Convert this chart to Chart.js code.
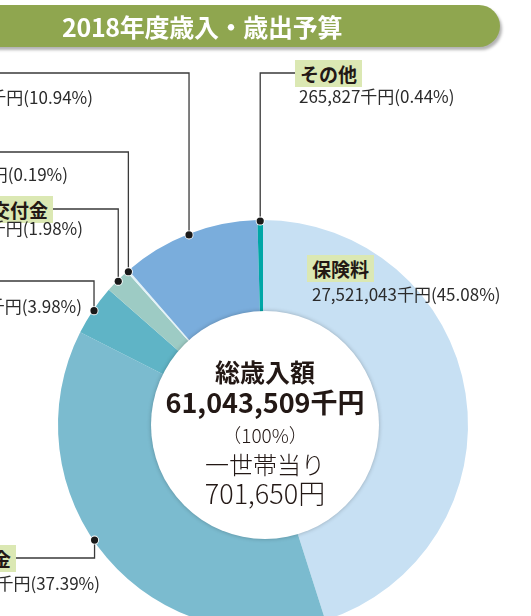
<!DOCTYPE html>
<html lang="ja">
<head>
<meta charset="utf-8">
<script src="https://cdn.jsdelivr.net/npm/chart.js@4.4.0/dist/chart.umd.min.js"></script>
<style>
  html, body { margin: 0; padding: 0; background: #fff; overflow: hidden; }
  body { width: 531px; height: 616px; position: relative; font-family: "Noto Sans CJK JP", "Noto Sans", sans-serif; color: #231815; }
  #wrap { position: absolute; left: 0; top: 0; width: 531px; height: 700px; }
  #chart { position: absolute; left: 0; top: 0; }
  .title { position: absolute; left: -30px; top: 5px; width: 530px; height: 42px; background: #8fa64f;
           border-radius: 0 21px 21px 0; box-shadow: 2px 3px 3px rgba(0,0,0,0.3); }
  .title span { position: absolute; left: 92px; top: 0; line-height: 42px; color: #fff; font-weight: bold; font-size: 25px; white-space: nowrap; letter-spacing: -0.3px; }
  .name { position: absolute; height: 27px; line-height: 27px; padding: 0 5px; background: #dbe8b3; font-weight: bold; font-size: 19px; white-space: nowrap; }
  .val { position: absolute; height: 20px; line-height: 20px; font-size: 17px; white-space: nowrap; color: #2b2b2b; }
  .hole { position: absolute; left: 151px; top: 311px; width: 228px; height: 228px; border-radius: 50%; background: #fff;
          box-shadow: 0 0 4px rgba(0,0,0,0.25); }
  .ctr { position: absolute; left: 140px; width: 250px; text-align: center; white-space: nowrap; color: #231815; }
</style>
</head>
<body>
<div id="wrap">
  <canvas id="chart" width="531" height="700"></canvas>
</div>
<div class="title"><span>2018年度歳入・歳出予算</span></div>
<div class="hole"></div>
<div id="labels"></div>
<div id="center"></div>
<script>
// 2018年度 歳入内訳（千円）
const categories = ['保険料', '国庫補助金', '都道府県補助金', '前期高齢者交付金', '繰入金', '繰越金', 'その他'];
const amounts = [27521043, 22824169, 2429540, 1208650, 115980, 6678300, 265827];
const percents = ['45.08', '37.39', '3.98', '1.98', '0.19', '10.94', '0.44'];
const colors = ['#c7e0f3', '#7bbbcf', '#5fb4c6', '#9dcbc4', '#e3f2f7', '#7aaddc', '#00a6a6'];

const centerTitle = '総歳入額';
const totalText = '61,043,509千円';
const totalPct = '（100%）';
const perLabel = '一世帯当り';
const perText = '701,650円';

// label placement (x/y in page px); side 'L' labels are right-aligned
const placement = [
  { side: 'R', nameX: 307, nameTop: 255, valX: 312, valY: 294 },
  { side: 'L', nameX: 16, nameTop: 545, valX: 100, valY: 583, lineY: 558, lineX: 16, frac: 0.545 },
  { side: 'L', nameX: -4, nameTop: 268, valX: 82, valY: 306, lineY: 281, lineX: -5, frac: 0.5 },
  { side: 'L', nameX: 53, nameTop: 196, valX: 83, valY: 228, lineY: 209, lineX: 53, frac: 0.5 },
  { side: 'L', nameX: -4, nameTop: 139, valX: 68, valY: 174, lineY: 152, lineX: -5, frac: 0.5 },
  { side: 'L', nameX: -4, nameTop: 60, valX: 93, valY: 97, lineY: 73, lineX: -5, frac: 0.5 },
  { side: 'R', nameX: 295, nameTop: 60, valX: 299, valY: 96, lineY: 73, lineX: 295, frac: 0.5 }
];

const fmt = (n) => n.toLocaleString('en-US');

// labels as html text
const box = document.getElementById('labels');
categories.forEach((c, i) => {
  const p = placement[i];
  const nm = document.createElement('div');
  nm.className = 'name';
  nm.textContent = c;
  nm.style.top = p.nameTop + 'px';
  const v = document.createElement('div');
  v.className = 'val';
  v.textContent = fmt(amounts[i]) + '千円(' + percents[i] + '%)';
  v.style.top = (p.valY - 10) + 'px';
  if (p.side === 'R') {
    nm.style.left = p.nameX + 'px';
    v.style.left = p.valX + 'px';
  } else {
    nm.style.right = (531 - p.nameX) + 'px';
    v.style.right = (531 - p.valX) + 'px';
  }
  box.appendChild(nm);
  box.appendChild(v);
});

// center text
const centerLines = [
  { t: centerTitle, y: 371, size: 25, w: 'bold' },
  { t: totalText, y: 401, size: 27, w: 'bold' },
  { t: totalPct, y: 434, size: 19, w: '300' },
  { t: perLabel, y: 464, size: 24, w: '300' },
  { t: perText, y: 492, size: 27, w: '300' }
];
const ctr = document.getElementById('center');
centerLines.forEach((l) => {
  const d = document.createElement('div');
  d.className = 'ctr';
  d.textContent = l.t;
  d.style.fontSize = l.size + 'px';
  d.style.fontWeight = l.w;
  d.style.lineHeight = (l.size + 4) + 'px';
  d.style.top = (l.y - (l.size + 4) / 2) + 'px';
  ctr.appendChild(d);
});

// leader lines from each slice to its label
const leaderLines = {
  id: 'leaderLines',
  afterDatasetsDraw(chart) {
    const ctx = chart.ctx;
    const arcs = chart.getDatasetMeta(0).data;
    ctx.save();
    arcs.forEach((arc, i) => {
      const p = placement[i];
      if (p.lineY === undefined) return;
      const a = arc.startAngle + (arc.endAngle - arc.startAngle) * p.frac;
      const r = arc.outerRadius - 1;
      const px = arc.x + Math.cos(a) * r;
      const py = arc.y + Math.sin(a) * r;
      ctx.strokeStyle = '#3a3a3a';
      ctx.lineWidth = 1.3;
      ctx.beginPath();
      ctx.moveTo(px, py);
      ctx.lineTo(px, p.lineY);
      ctx.lineTo(p.lineX, p.lineY);
      ctx.stroke();
      ctx.beginPath();
      ctx.arc(px, py, 4.5, 0, Math.PI * 2);
      ctx.fillStyle = '#fff';
      ctx.fill();
      ctx.beginPath();
      ctx.arc(px, py, 3.6, 0, Math.PI * 2);
      ctx.fillStyle = '#1a1a1a';
      ctx.fill();
    });
    ctx.restore();
  }
};

new Chart(document.getElementById('chart'), {
  type: 'doughnut',
  data: {
    labels: categories,
    datasets: [{
      data: amounts,
      backgroundColor: colors,
      borderWidth: 0,
      hoverOffset: 0
    }]
  },
  options: {
    responsive: false,
    animation: false,
    cutout: '52%',
    layout: { padding: { left: 58, right: 63, top: 220, bottom: 70 } },
    plugins: {
      legend: { display: false },
      tooltip: { enabled: false }
    }
  },
  plugins: [leaderLines]
});
</script>
</body>
</html>
